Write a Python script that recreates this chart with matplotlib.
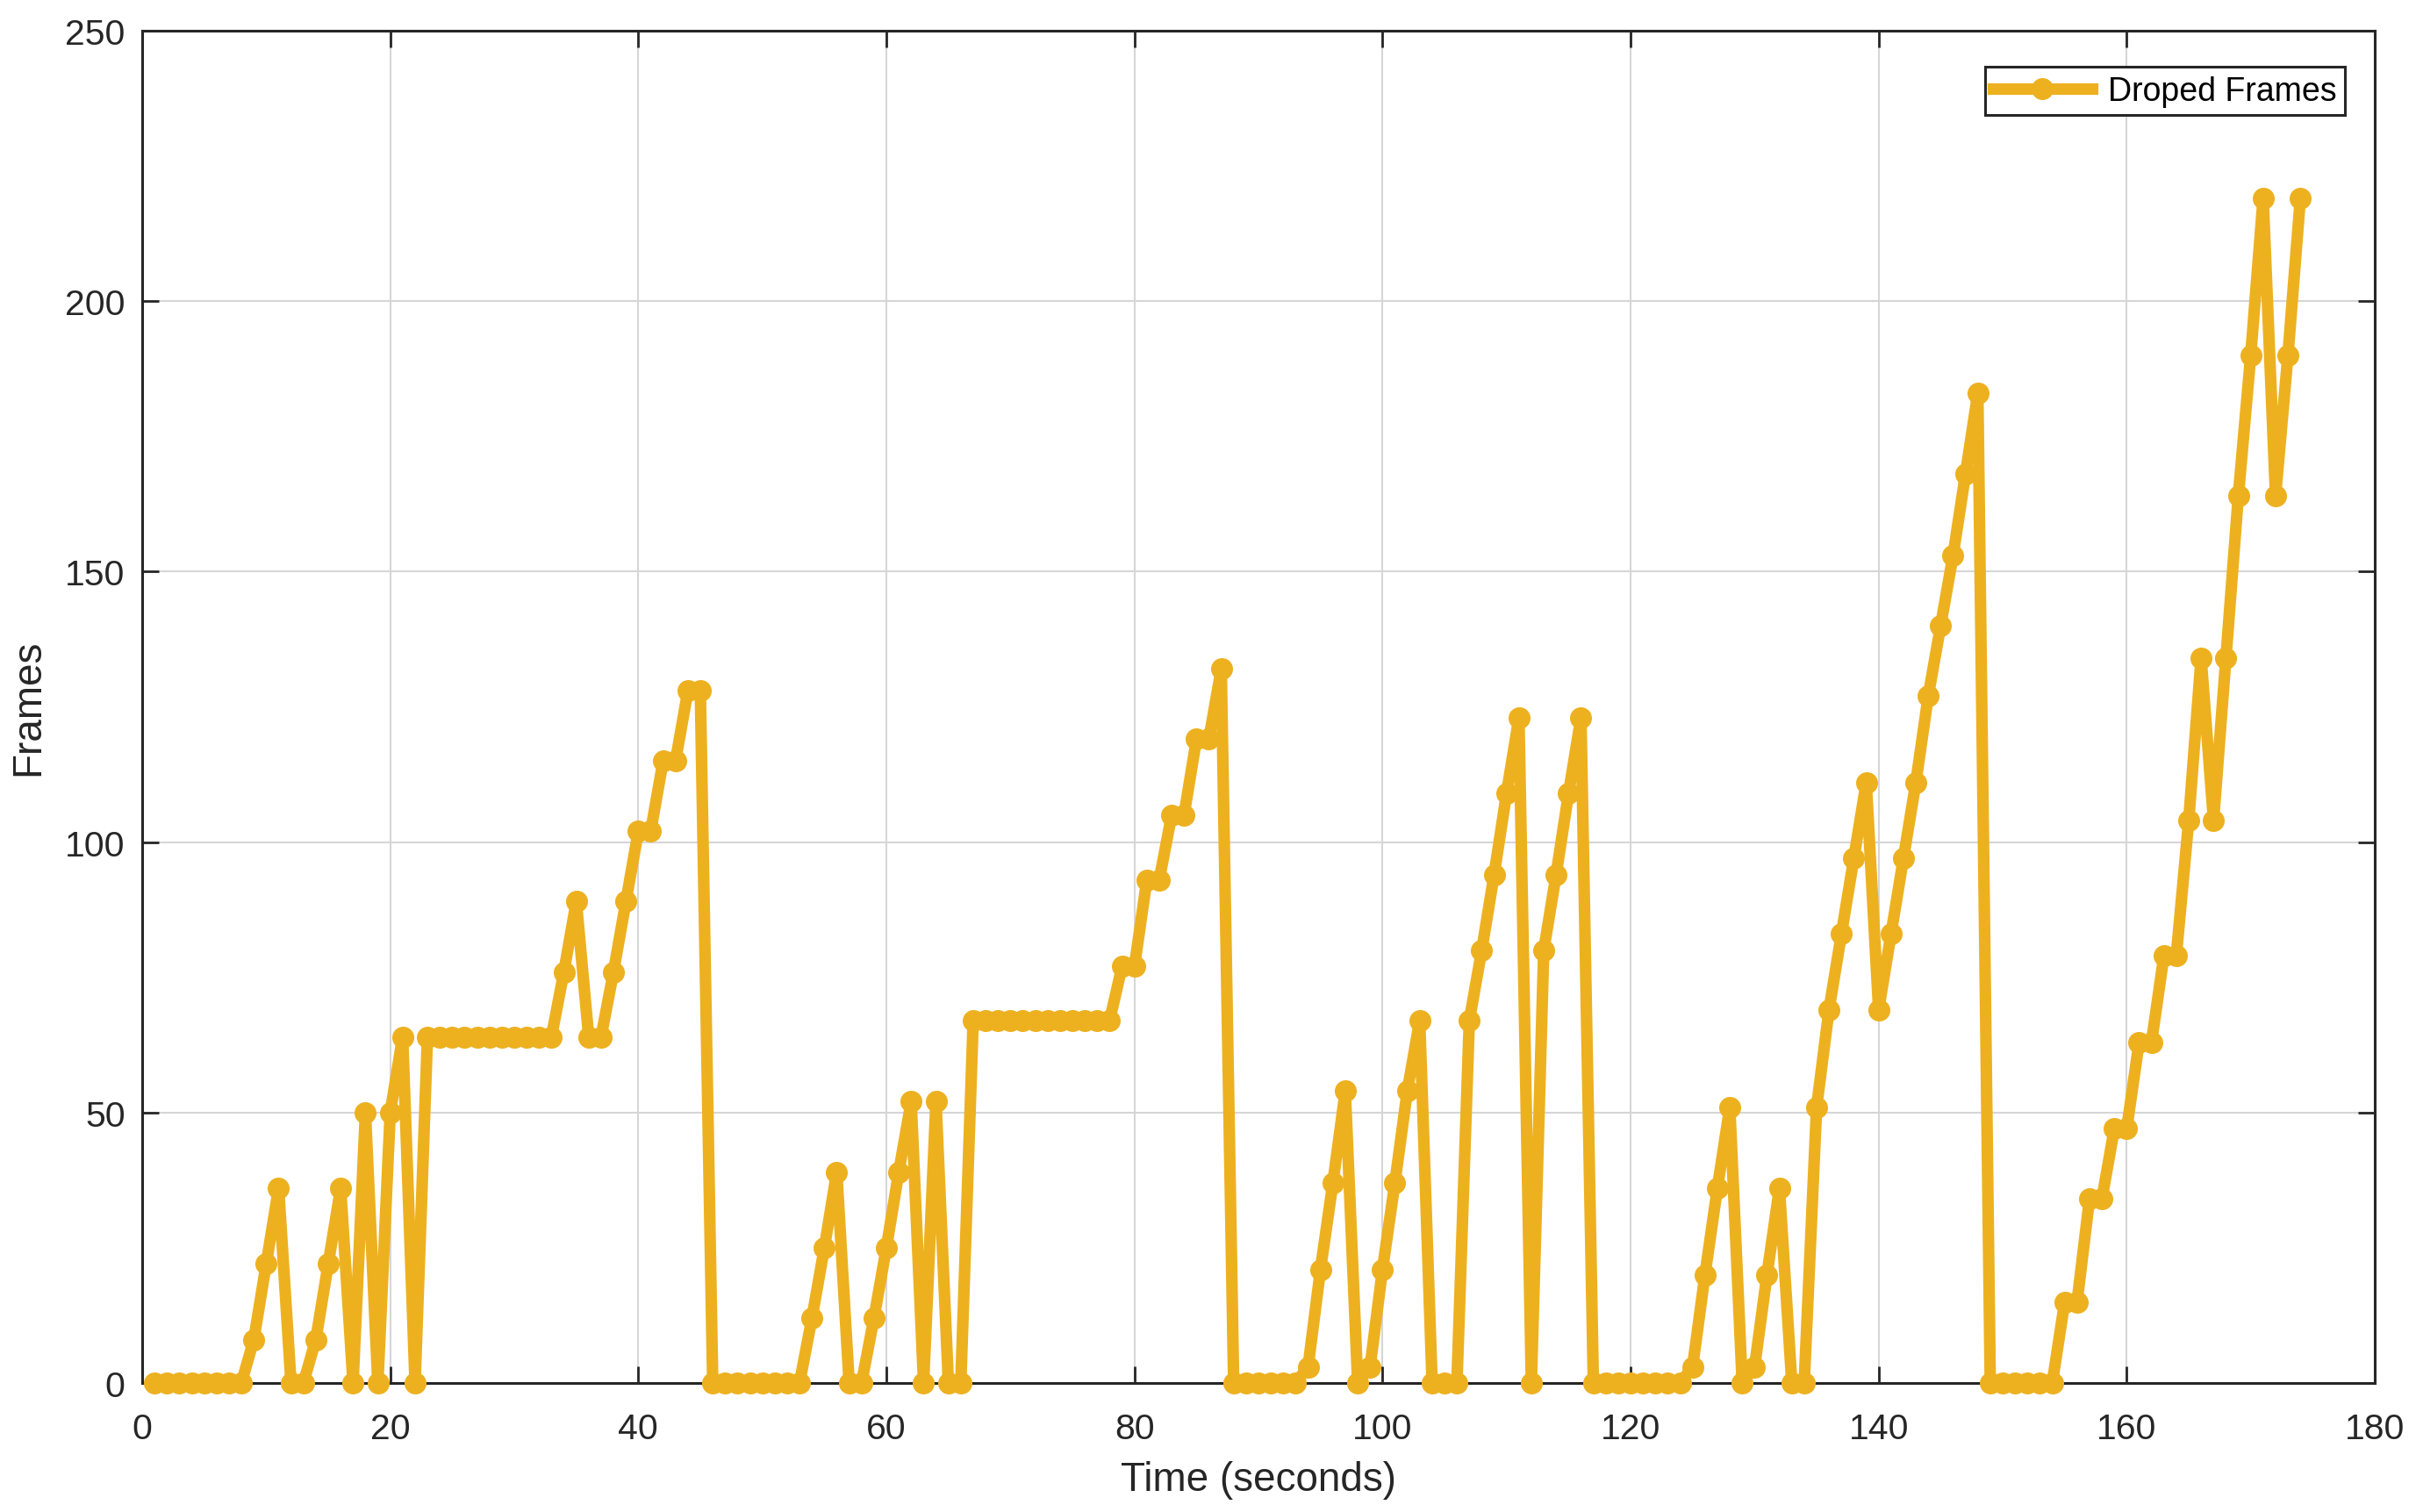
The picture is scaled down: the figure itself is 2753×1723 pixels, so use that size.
import matplotlib
matplotlib.use("Agg")
import matplotlib.pyplot as plt
import numpy as np

plt.rcParams['font.family'] = ['Liberation Sans', 'DejaVu Sans']

time_s = list(range(1, 175))
dropped_frames = [
    0, 0, 0, 0, 0, 0, 0, 0, 8, 22,            # 1-10
    36, 0, 0, 8, 22, 36, 0, 50, 0, 50,        # 11-20
    64, 0, 64, 64, 64, 64, 64, 64, 64, 64,    # 21-30
    64, 64, 64, 76, 89, 64, 64, 76, 89, 102,  # 31-40
    102, 115, 115, 128, 128, 0, 0, 0, 0, 0,   # 41-50
    0, 0, 0, 12, 25, 39, 0, 0, 12, 25,        # 51-60
    39, 52, 0, 52, 0, 0, 67, 67, 67, 67,      # 61-70
    67, 67, 67, 67, 67, 67, 67, 67, 77, 77,   # 71-80
    93, 93, 105, 105, 119, 119, 132, 0, 0, 0, # 81-90
    0, 0, 0, 3, 21, 37, 54, 0, 3, 21,         # 91-100
    37, 54, 67, 0, 0, 0, 67, 80, 94, 109,     # 101-110
    123, 0, 80, 94, 109, 123, 0, 0, 0, 0,     # 111-120
    0, 0, 0, 0, 3, 20, 36, 51, 0, 3,          # 121-130
    20, 36, 0, 0, 51, 69, 83, 97, 111, 69,    # 131-140
    83, 97, 111, 127, 140, 153, 168, 183, 0, 0,  # 141-150
    0, 0, 0, 0, 15, 15, 34, 34, 47, 47,       # 151-160
    63, 63, 79, 79, 104, 134, 104, 134, 164, 190,  # 161-170
    219, 164, 190, 219,                       # 171-174
]
x_ticks = [0, 20, 40, 60, 80, 100, 120, 140, 160, 180]
y_ticks = [0, 50, 100, 150, 200, 250]

W, H, DPI = 2753, 1724, 100
fig = plt.figure(figsize=(W / DPI, H / DPI), dpi=DPI)
ax = fig.add_axes([162 / W, 1 - 1577 / H, (2706 - 162) / W, (1577 - 36) / H])

color = '#EDB120'
ax.plot(time_s, dropped_frames, '-o', color=color, lw=9.5, markersize=17,
        markerfacecolor=color, markeredgecolor=color, label='Droped Frames',
        clip_on=False, zorder=3)

ax.set_xlim(0, 180)
ax.set_ylim(0, 250)
ax.set_xticks(x_ticks)
ax.set_yticks(y_ticks)

dark = '#262626'
ax.grid(True, color='#d6d6d6', lw=1.5)
ax.set_axisbelow(True)
for s in ax.spines.values():
    s.set_color(dark)
    s.set_linewidth(2.2)
ax.tick_params(axis='both', which='both', direction='in', top=True, right=True,
               length=14, width=2, colors=dark, labelsize=29.5, labelcolor=dark)
ax.tick_params(axis='x', pad=24)
ax.tick_params(axis='y', pad=14)

ax.set_xlabel('Time (seconds)', fontsize=33, color=dark, labelpad=12)
ax.set_ylabel('Frames', fontsize=33, color=dark, labelpad=14)

leg = ax.legend(loc='upper right', bbox_to_anchor=(1.0, 0.995), fontsize=27,
                frameon=True, fancybox=False,
                borderaxespad=0.9, handlelength=3.0, borderpad=0.25,
                handletextpad=0.5)
leg.get_frame().set_edgecolor(dark)
leg.get_frame().set_linewidth(2.2)
leg.get_frame().set_alpha(1)

fig.savefig('out.png', dpi=DPI, facecolor='white')
